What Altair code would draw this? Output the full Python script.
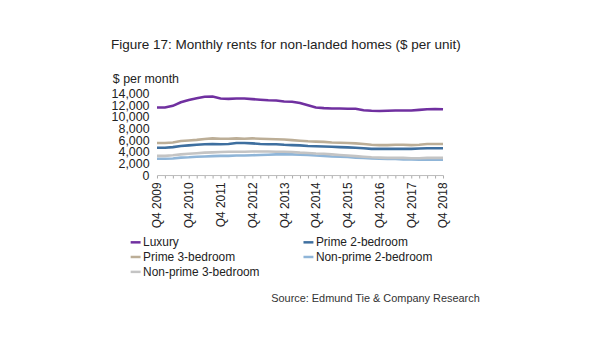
import altair as alt
import pandas as pd

quarters = ["Q4 2009"] + [f"Q{q} {y}" for y in range(2010, 2019) for q in (1, 2, 3, 4)]

# legend fills column by column: col 1 = Luxury, Prime 3, Non-prime 3; col 2 = Prime 2, Non-prime 2
series_names = ["Luxury", "Prime 3-bedroom", "Non-prime 3-bedroom", "Prime 2-bedroom", "Non-prime 2-bedroom"]
series_colors = ["#7030a0", "#bcae97", "#c4c4c4", "#3e6f9f", "#8fb5d8"]

luxury = [11600, 11600, 11900, 12500, 12900, 13200, 13450, 13500, 13150, 13100, 13150, 13150,
          13050, 12950, 12850, 12800, 12650, 12600, 12400, 12000, 11600, 11500, 11450, 11450,
          11400, 11400, 11150, 11050, 11000, 11050, 11100, 11100, 11100, 11200, 11300, 11350, 11300]
prime_2bed = [4700, 4700, 4800, 5000, 5100, 5200, 5300, 5350, 5300, 5350, 5500, 5500,
              5450, 5350, 5300, 5300, 5200, 5150, 5100, 5000, 4950, 4900, 4850, 4800,
              4750, 4700, 4600, 4500, 4500, 4500, 4500, 4500, 4500, 4550, 4600, 4600, 4600]
prime_3bed = [5500, 5500, 5600, 5850, 5950, 6050, 6200, 6300, 6250, 6250, 6300, 6250,
              6300, 6250, 6200, 6150, 6100, 6000, 5900, 5800, 5750, 5700, 5600, 5550,
              5500, 5450, 5350, 5200, 5150, 5150, 5200, 5200, 5150, 5200, 5350, 5350, 5350]
nonprime_2bed = [2800, 2800, 2850, 3000, 3050, 3150, 3200, 3250, 3300, 3300, 3350, 3350,
                 3400, 3450, 3500, 3550, 3550, 3550, 3500, 3450, 3350, 3300, 3200, 3150,
                 3100, 3000, 2950, 2850, 2800, 2750, 2750, 2700, 2700, 2650, 2650, 2650, 2650]
nonprime_3bed = [3300, 3300, 3400, 3550, 3650, 3750, 3850, 3900, 3950, 4000, 4000, 4000,
                 4050, 4050, 4050, 4000, 4000, 3950, 3850, 3800, 3700, 3650, 3550, 3450,
                 3350, 3250, 3150, 3050, 3000, 2950, 2950, 2950, 2900, 2900, 2950, 2950, 2950]

y_ticks = [0, 2000, 4000, 6000, 8000, 10000, 12000, 14000]

title_text = "Figure 17: Monthly rents for non-landed homes ($ per unit)"
y_title = "$ per month"
source_text = "Source: Edmund Tie & Company Research"

all_values = {"Luxury": luxury, "Prime 2-bedroom": prime_2bed, "Prime 3-bedroom": prime_3bed,
              "Non-prime 2-bedroom": nonprime_2bed, "Non-prime 3-bedroom": nonprime_3bed}
rows = []
for name, vals in all_values.items():
    for q, v in zip(quarters, vals):
        rows.append({"quarter": q, "series": name, "value": v})
df = pd.DataFrame(rows)

FONT = "Liberation Sans"

lines = alt.Chart(df).mark_line(strokeWidth=2.6).encode(
    x=alt.X("quarter:N", sort=quarters, title=None,
            scale=alt.Scale(type="point", padding=0),
            axis=alt.Axis(labelAngle=-90, labelExpr="substring(datum.label, 0, 2) == 'Q4' ? datum.label : ''",
                          labelFontSize=12, labelColor="#222", labelFont=FONT, labelPadding=4,
                          tickSize=3, tickColor="#aaaaaa", domainColor="#bbbbbb",
                          labelOverlap=False, grid=False)),
    y=alt.Y("value:Q", scale=alt.Scale(domain=[0, 14000], nice=False),
            axis=alt.Axis(values=y_ticks, format=",.0f", labelFontSize=12.5, labelColor="#222",
                          labelFont=FONT, labelOverlap=False, grid=False, domain=False, ticks=False,
                          labelPadding=8, title=y_title, titleAngle=0, titleAlign="left",
                          titleBaseline="alphabetic", titleX=-45, titleY=-11, titleFontSize=12.5,
                          titleFontWeight="normal", titleColor="#222", titleFont=FONT)),
    color=alt.Color("series:N", sort=series_names,
                    scale=alt.Scale(domain=series_names, range=series_colors),
                    legend=alt.Legend(title=None, orient="none", legendX=-28, legendY=143,
                                      columns=2, columnPadding=38, rowPadding=2,
                                      symbolType="stroke", symbolSize=100, symbolStrokeWidth=2.5,
                                      labelFontSize=12, labelFont=FONT, labelColor="#222",
                                      labelOffset=1, labelLimit=200)),
)

source_df = pd.DataFrame({"t": [source_text]})
source = alt.Chart(source_df).mark_text(align="right", baseline="middle", fontSize=11,
                                        font=FONT, color="#333").encode(
    text="t:N", x=alt.value(325), y=alt.value(207))

chart = alt.layer(lines, source).properties(
    width=288, height=82,
    title=alt.TitleParams(title_text, anchor="start", fontSize=13.6, font=FONT,
                          fontWeight="normal", color="#222", offset=21),
    autosize=alt.AutoSizeParams(type="none"),
    padding={"left": 150, "top": 85, "right": 150, "bottom": 180},
).configure_view(stroke=None)

chart.save("out.html", embed_options={"renderer": "svg", "actions": False})
